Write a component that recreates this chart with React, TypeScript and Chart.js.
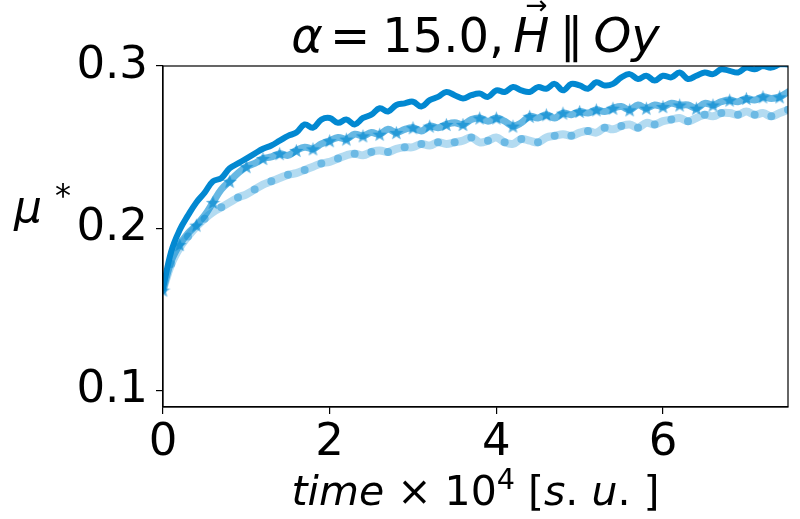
import { useEffect, useRef } from 'react';
import { Chart, registerables } from 'chart.js';

Chart.register(...registerables);

// time x 10^4, sampled every 0.1
const times = [
  0.0, 0.1, 0.2, 0.3, 0.4, 0.5, 0.6, 0.7, 0.8, 0.9,
  1.0, 1.1, 1.2, 1.3, 1.4, 1.5, 1.6, 1.7, 1.8, 1.9,
  2.0, 2.1, 2.2, 2.3, 2.4, 2.5, 2.6, 2.7, 2.8, 2.9,
  3.0, 3.1, 3.2, 3.3, 3.4, 3.5, 3.6, 3.7, 3.8, 3.9,
  4.0, 4.1, 4.2, 4.3, 4.4, 4.5, 4.6, 4.7, 4.8, 4.9,
  5.0, 5.1, 5.2, 5.3, 5.4, 5.5, 5.6, 5.7, 5.8, 5.9,
  6.0, 6.1, 6.2, 6.3, 6.4, 6.5, 6.6, 6.7, 6.8, 6.9,
  7.0, 7.1, 7.2, 7.3, 7.4, 7.5,
];

// dark solid line
const muDark = [
  0.163, 0.186, 0.199, 0.208, 0.216, 0.222, 0.229, 0.231, 0.237, 0.240,
  0.243, 0.246, 0.249, 0.251, 0.254, 0.257, 0.259, 0.264, 0.262, 0.267,
  0.268, 0.265, 0.267, 0.264, 0.268, 0.270, 0.274, 0.272, 0.276, 0.277,
  0.278, 0.275, 0.279, 0.281, 0.284, 0.282, 0.280, 0.282, 0.283, 0.281,
  0.285, 0.284, 0.287, 0.285, 0.284, 0.287, 0.286, 0.289, 0.285, 0.289,
  0.288, 0.286, 0.290, 0.288, 0.289, 0.293, 0.295, 0.292, 0.294, 0.291,
  0.294, 0.293, 0.296, 0.292, 0.294, 0.296, 0.295, 0.298, 0.297, 0.296,
  0.299, 0.298, 0.300, 0.299, 0.301, 0.301,
];

// medium line with star markers
const muStar = [
  0.162, 0.180, 0.190, 0.197, 0.202, 0.208, 0.216, 0.224, 0.229, 0.234,
  0.238, 0.240, 0.243, 0.244, 0.246, 0.245, 0.248, 0.250, 0.249, 0.252,
  0.254, 0.256, 0.255, 0.258, 0.257, 0.259, 0.258, 0.261, 0.259, 0.261,
  0.262, 0.260, 0.263, 0.262, 0.264, 0.265, 0.264, 0.267, 0.268, 0.266,
  0.268, 0.266, 0.263, 0.265, 0.269, 0.268, 0.270, 0.268, 0.271, 0.270,
  0.272, 0.271, 0.273, 0.272, 0.274, 0.275, 0.273, 0.276, 0.274, 0.276,
  0.275, 0.277, 0.276, 0.276, 0.274, 0.277, 0.276, 0.278, 0.279, 0.278,
  0.280, 0.279, 0.281, 0.280, 0.281, 0.284,
];

// light line with circle markers
const muDot = [
  0.162, 0.178, 0.188, 0.195, 0.201, 0.206, 0.210, 0.213, 0.216, 0.219,
  0.221, 0.224, 0.227, 0.229, 0.231, 0.233, 0.234, 0.236, 0.238, 0.240,
  0.241, 0.243, 0.245, 0.246, 0.245, 0.247, 0.248, 0.247, 0.249, 0.250,
  0.250, 0.252, 0.251, 0.253, 0.252, 0.253, 0.254, 0.256, 0.253, 0.254,
  0.256, 0.253, 0.252, 0.255, 0.254, 0.253, 0.256, 0.257, 0.258, 0.257,
  0.259, 0.260, 0.259, 0.262, 0.261, 0.263, 0.264, 0.262, 0.265, 0.264,
  0.266, 0.267, 0.268, 0.266, 0.268, 0.270, 0.269, 0.271, 0.271, 0.270,
  0.272, 0.270, 0.271, 0.269, 0.271, 0.273,
];

const xTicks = [0, 2, 4, 6];
const yTicks = [0.1, 0.2, 0.3];

const BLUE = '2, 136, 209';
const FONT = '"DejaVu Sans", sans-serif';

function makeStar(size: number, color: string) {
  const c = document.createElement('canvas');
  c.width = size;
  c.height = size;
  const g = c.getContext('2d')!;
  const r = size / 2;
  g.beginPath();
  for (let i = 0; i < 10; i++) {
    const rr = i % 2 === 0 ? r : r * 0.42;
    const a = -Math.PI / 2 + (i * Math.PI) / 5;
    g.lineTo(r + rr * Math.cos(a), r + 0.8 + rr * Math.sin(a));
  }
  g.closePath();
  g.fillStyle = color;
  g.fill();
  return c;
}

type Run = { t: string; it?: boolean; sup?: boolean; vec?: boolean; gap?: number };

function drawRuns(ctx: CanvasRenderingContext2D, runs: Run[], cx: number, base: number, size: number) {
  const fontOf = (r: Run) => `${r.it ? 'italic ' : ''}${r.sup ? size * 0.7 : size}px ${FONT}`;
  let total = 0;
  for (const r of runs) {
    ctx.font = fontOf(r);
    total += ctx.measureText(r.t).width + (r.gap || 0);
  }
  let x = cx - total / 2;
  ctx.textAlign = 'left';
  ctx.textBaseline = 'alphabetic';
  for (const r of runs) {
    ctx.font = fontOf(r);
    const w = ctx.measureText(r.t).width;
    ctx.fillText(r.t, x, r.sup ? base - size * 0.38 : base);
    if (r.vec) {
      ctx.font = `${size * 0.55}px ${FONT}`;
      ctx.textAlign = 'center';
      ctx.fillText('\u2192', x + w / 2 + 5, base - size * 0.8);
      ctx.textAlign = 'left';
    }
    x += w + (r.gap || 0);
  }
}

const textPlugin = {
  id: 'mathText',
  afterDraw(chart: Chart) {
    const { ctx, chartArea: a } = chart;
    ctx.save();
    ctx.strokeStyle = '#000';
    ctx.lineWidth = 1.2;
    ctx.strokeRect(a.left, a.top, a.right - a.left, a.bottom - a.top);
    ctx.fillStyle = '#000';
    const cx = (a.left + a.right) / 2;
    drawRuns(ctx, [
      { t: '\u03b1', it: true, gap: 7 },
      { t: '=', gap: 12 },
      { t: '15.0,', gap: 9 },
      { t: 'H', it: true, vec: true, gap: 10 },
      { t: '\u2225', gap: 10 },
      { t: 'Oy', it: true },
    ], cx, 52, 48);
    drawRuns(ctx, [
      { t: 'time', it: true },
      { t: ' \u00d7 10' },
      { t: '4', sup: true },
      { t: ' [' },
      { t: 's', it: true },
      { t: '. ' },
      { t: 'u', it: true },
      { t: '. ]' },
    ], cx, 505, 41);
    ctx.font = `italic 44px ${FONT}`;
    ctx.textAlign = 'left';
    ctx.fillText('\u03bc', 14, 222);
    ctx.font = `32px ${FONT}`;
    ctx.fillText('*', 55, 206);
    ctx.restore();
  },
};

export default function App() {
  const canvasRef = useRef<HTMLCanvasElement>(null);
  const chartRef = useRef<Chart | null>(null);

  useEffect(() => {
    document.body.style.margin = '0';
    if (!canvasRef.current) return;
    const star = makeStar(15, `rgba(${BLUE}, 0.65)`);

    chartRef.current = new Chart(canvasRef.current, {
      type: 'line',
      data: {
        labels: times,
        datasets: [
          {
            label: 'dark',
            data: times.map((t, i) => ({ x: t, y: muDark[i] })),
            borderColor: `rgb(${BLUE})`,
            borderWidth: 6,
            pointRadius: 0,
            tension: 0.4,
            order: 1,
          },
          {
            label: 'star',
            data: times.map((t, i) => ({ x: t, y: muStar[i] })),
            borderColor: `rgba(${BLUE}, 0.6)`,
            borderWidth: 7,
            pointStyle: star,
            pointRadius: (c: any) => (c.dataIndex % 2 === 0 ? 4 : 0),
            tension: 0.4,
            order: 2,
          },
          {
            label: 'dot',
            data: times.map((t, i) => ({ x: t, y: muDot[i] })),
            borderColor: `rgba(${BLUE}, 0.3)`,
            borderWidth: 8,
            pointStyle: 'circle',
            pointRadius: (c: any) => (c.dataIndex % 2 === 1 ? 4 : 0),
            pointBackgroundColor: `rgba(${BLUE}, 0.4)`,
            pointBorderWidth: 0,
            tension: 0.4,
            order: 3,
          },
        ],
      },
      options: {
        animation: false,
        responsive: true,
        maintainAspectRatio: false,
        layout: { padding: { left: 0, top: 66, right: 12, bottom: 0 } },
        plugins: {
          legend: { display: false },
          tooltip: { enabled: false },
        },
        elements: {
          line: { borderCapStyle: 'round', borderJoinStyle: 'round' },
        },
        scales: {
          x: {
            type: 'linear',
            min: 0,
            max: 7.5,
            afterBuildTicks: (s: any) => {
              s.ticks = xTicks.map((v) => ({ value: v }));
            },
            afterFit: (s: any) => {
              s.height = 112;
            },
            ticks: { color: '#000', font: { family: FONT, size: 45 }, padding: 2, maxRotation: 0 },
            grid: { drawOnChartArea: false, drawTicks: true, tickLength: 7, color: '#000', lineWidth: 1.2 },
            border: { display: true, color: '#000', width: 1.2 },
          },
          y: {
            min: 0.09,
            max: 0.3,
            afterBuildTicks: (s: any) => {
              s.ticks = yTicks.map((v) => ({ value: v }));
            },
            afterFit: (s: any) => {
              s.width = 163;
            },
            ticks: {
              color: '#000',
              font: { family: FONT, size: 45 },
              padding: 8,
              callback: (v: any) => Number(v).toFixed(1),
            },
            grid: { drawOnChartArea: false, drawTicks: true, tickLength: 7, color: '#000', lineWidth: 1.2 },
            border: { display: true, color: '#000', width: 1.2 },
          },
        },
      },
      plugins: [textPlugin],
    });

    return () => {
      chartRef.current?.destroy();
    };
  }, []);

  return (
    <div style={{ width: 800, height: 519, background: '#fff' }}>
      <canvas ref={canvasRef} />
    </div>
  );
}
